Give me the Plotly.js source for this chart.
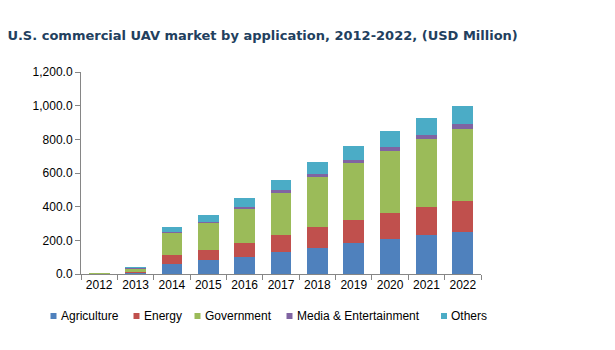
<!DOCTYPE html>
<html>
<head>
<meta charset="utf-8">
<script src="https://cdn.plot.ly/plotly-3.0.1.min.js"></script>
<style>body{margin:0;background:#fff}#chart{width:615px;height:350px}</style>
</head>
<body>
<div id="chart"></div>
<script>
const years = ['2012','2013','2014','2015','2016','2017','2018','2019','2020','2021','2022'];
const agriculture   = [1.5, 5, 61, 81, 103, 132, 156, 184, 210, 234, 251];
const energy        = [1.5, 8, 50, 62, 83, 101, 125, 137, 152, 166, 185];
const government    = [1.5, 17, 131, 160, 200, 250, 295, 338, 369, 402, 427];
const media         = [0.5, 3, 9, 8, 14, 18, 18, 20, 25, 26, 30];
const others        = [2.5, 8, 28, 41, 51, 57, 73, 81, 93, 99, 107];

const names = ['Agriculture','Energy','Government','Media & Entertainment','Others'];
const series = [agriculture, energy, government, media, others];
const colors = ['#4F81BD','#C0504D','#9BBB59','#8064A2','#4BACC6'];

const data = series.map((s, i) => ({
  type: 'bar', x: years, y: s, name: names[i],
  marker: {color: colors[i]}, hoverinfo: 'none', showlegend: false
}));

// Legend drawn as shapes + annotations (compact Excel-style legend)
const plotL = 81, plotW = 400, plotB = 274, plotH = 202;
const legendTextX = [59.5, 142.5, 203.5, 295.5, 450];
const legendY = 316;
const px2x = p => (p - plotL) / plotW;
const px2y = p => (plotB - p) / plotH;

const shapes = names.map((n, i) => ({
  type: 'rect', xref: 'paper', yref: 'paper',
  x0: px2x(legendTextX[i] - 9), x1: px2x(legendTextX[i] - 3),
  y0: px2y(legendY + 3), y1: px2y(legendY - 3),
  fillcolor: colors[i], line: {width: 0}
}));
const annotations = names.map((n, i) => ({
  text: n, xref: 'paper', yref: 'paper', showarrow: false,
  x: px2x(legendTextX[i]), y: px2y(legendY), xanchor: 'left', yanchor: 'middle',
  font: {size: 12, color: '#000'}, borderpad: 0
}));

const layout = {
  width: 615, height: 350,
  barmode: 'stack', bargap: 0.43,
  margin: {l: 81, r: 134, t: 72, b: 76, autoexpand: false},
  paper_bgcolor: '#fff', plot_bgcolor: '#fff',
  font: {family: 'Liberation Sans, Arial, sans-serif', size: 12, color: '#000'},
  title: {
    text: '<b>U.S. commercial UAV market by application, 2012-2022, (USD Million)</b>',
    font: {family: 'DejaVu Sans, Verdana, sans-serif', size: 13, color: '#22405e'},
    x: 0.012, xanchor: 'left', y: 0.9, yanchor: 'middle'
  },
  xaxis: {
    type: 'category', showgrid: false, showline: true, linecolor: '#868686', linewidth: 1,
    ticks: 'outside', tickson: 'boundaries', ticklen: 5, tickcolor: '#868686',
    tickfont: {size: 12}
  },
  yaxis: {
    range: [0, 1200], dtick: 200, tickformat: ',.1f', showgrid: false, zeroline: false,
    showline: true, linecolor: '#868686', linewidth: 1,
    ticks: 'outside', ticklen: 5, tickcolor: '#868686', tickfont: {size: 12}
  },
  showlegend: false,
  shapes: shapes,
  annotations: annotations
};

Plotly.newPlot('chart', data, layout, {displayModeBar: false, staticPlot: true});
</script>
</body>
</html>
